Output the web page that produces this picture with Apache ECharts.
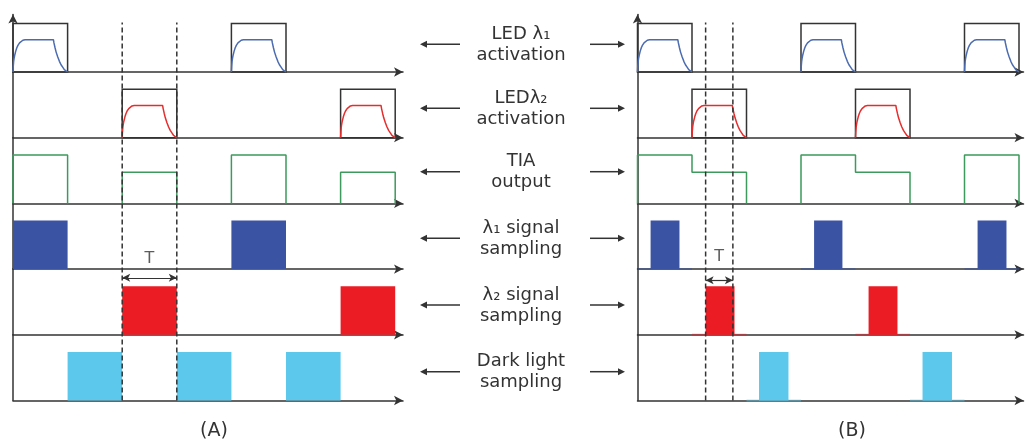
<!DOCTYPE html>
<html>
<head>
<meta charset="utf-8">
<script src="https://cdn.jsdelivr.net/npm/echarts@6/dist/echarts.min.js"></script>
<style>
  html, body { margin: 0; padding: 0; background: #fff; }
  #chart { width: 1029px; height: 447px; }
</style>
</head>
<body>
<div id="chart"></div>
<script>
// ---------------- timing data (time in slot units, level = fraction of full pulse) ----------------
const rowLabels = ['LED λ₁\nactivation', 'LEDλ₂\nactivation', 'TIA\noutput',
                   'λ₁ signal\nsampling', 'λ₂ signal\nsampling', 'Dark light\nsampling'];
const panelLabels = ['(A)', '(B)'];

// LED optical response across one activation slot: [offset in slot, level]
const ledResponse = [
  [0, 0], [0.005, 0.12], [0.012, 0.22], [0.02, 0.28], [0.03, 0.34], [0.05, 0.43],
  [0.07, 0.5], [0.09, 0.55], [0.12, 0.6], [0.15, 0.63], [0.18, 0.655], [0.22, 0.665],
  [0.74, 0.665], [0.75, 0.6], [0.77, 0.5], [0.79, 0.41], [0.82, 0.31], [0.85, 0.22],
  [0.88, 0.15], [0.91, 0.1], [0.94, 0.05], [0.97, 0.015], [1, 0]
];

// panel A (left) and panel B (right)
const led1Slots = [[0, 4], [0, 3, 6]];
const led2Slots = [[2, 6], [1, 4]];
const tiaLevels = [[1, 0, 0.64, 0, 1, 0, 0.64], [1, 0.64, 0, 1, 0.64, 0, 1]];
const sampleL1 = [[[0, 1], [4, 5]], [[0.24, 0.77], [3.24, 3.76], [6.24, 6.77]]];
const sampleL2 = [[[2, 3], [6, 7]], [[1.25, 1.78], [4.24, 4.77]]];
const sampleDark = [[[1, 2], [3, 4], [5, 6]], [[2.23, 2.77], [5.23, 5.77]]];
const windowT = [[2, 3], [1.25, 1.75]];

// ---------------- layout ----------------
const FONT = '"DejaVu Sans", sans-serif';
const INK = '#333';
const COLORS = {
  curve1: '#4b6bb0', curve2: '#e52d2d', tia: '#3d9a5c',
  s1: '#3a53a3', s2: '#ec1c24', dark: '#5bc8ec'
};
const PULSE_PX = 48.5;
const ROW_PX = 65.7;
const BASELINES = [72, 137.7, 203.4, 269.1, 334.8, 400.5];
const AXIS_TOP = 14.5;
const PANELS = [
  { left: 13, width: 390, unit: 54.6, labelX: 214 },
  { left: 637.5, width: 386, unit: 54.5, labelX: 852 }
];
const LABEL_X = 521;
const ARROW_Y = [44.3, 108.3, 171.7, 238.3, 305, 371.7];

const grids = [], xAxes = [], yAxes = [], series = [];

function addGrid(p, top, height, yMax, opts) {
  const P = PANELS[p];
  const idx = grids.length;
  grids.push({ left: P.left, top: top, width: P.width, height: height, containLabel: false });
  xAxes.push({
    type: 'value', gridIndex: idx, min: 0, max: P.width / P.unit,
    axisLine: { show: opts.axes, symbol: ['none', 'arrow'], symbolSize: [7, 9],
                lineStyle: { color: INK, width: 1.5 } },
    axisTick: { show: false }, axisLabel: { show: false }, splitLine: { show: false }
  });
  yAxes.push({
    type: 'value', gridIndex: idx, min: 0, max: yMax,
    axisLine: { show: opts.axes, onZero: false, symbol: opts.arrow ? ['none', 'arrow'] : 'none',
                symbolSize: [7, 9], lineStyle: { color: INK, width: 1.5 } },
    axisTick: { show: false }, axisLabel: { show: false }, splitLine: { show: false }
  });
  return idx;
}

function boxSeries(g, slots) {
  return {
    type: 'custom', xAxisIndex: g, yAxisIndex: g, silent: true, animation: false, z: 3,
    data: slots.map(s => [s, s + 1]),
    renderItem: function (params, api) {
      const a = api.coord([api.value(0), 0]);
      const b = api.coord([api.value(1), 1]);
      return { type: 'rect', shape: { x: a[0], y: b[1], width: b[0] - a[0], height: a[1] - b[1] },
               style: { fill: 'none', stroke: INK, lineWidth: 1.5 } };
    }
  };
}

function lineSeries(g, data, color) {
  return {
    type: 'line', xAxisIndex: g, yAxisIndex: g, data: data, symbol: 'none', showSymbol: false,
    silent: true, animation: false, z: 4, clip: false,
    lineStyle: { color: color, width: 1.5 }
  };
}

function sampleSeries(g, pulses, color) {
  return {
    type: 'custom', xAxisIndex: g, yAxisIndex: g, silent: true, animation: false, z: 3,
    data: pulses.map(p => [p[0], p[1]]),
    renderItem: function (params, api) {
      const s = api.value(0), e = api.value(1);
      const children = [];
      const slot0 = Math.floor(s + 1e-6), slot1 = slot0 + 1;
      if (e - s < 0.99) {
        const t0 = api.coord([slot0, 0]), t1 = api.coord([slot1, 0]);
        children.push({ type: 'line', shape: { x1: t0[0], y1: t0[1], x2: t1[0], y2: t1[1] },
                        style: { stroke: color, opacity: 0.45, lineWidth: 2 } });
      }
      const a = api.coord([s, 0]), b = api.coord([e, 1]);
      children.push({ type: 'rect', shape: { x: a[0], y: b[1], width: b[0] - a[0], height: a[1] - b[1] },
                      style: { fill: color } });
      return { type: 'group', children: children };
    }
  };
}

PANELS.forEach(function (P, p) {
  const rowGrid = [];
  for (let r = 0; r < 6; r++) {
    const top = r === 0 ? AXIS_TOP : BASELINES[r - 1];
    const h = BASELINES[r] - top;
    rowGrid.push(addGrid(p, top, h, h / PULSE_PX, { axes: true, arrow: r === 0 }));
  }

  // LED activation windows with their optical response
  [[led1Slots[p], COLORS.curve1], [led2Slots[p], COLORS.curve2]].forEach(function (pair, r) {
    const g = rowGrid[r];
    series.push(boxSeries(g, pair[0]));
    pair[0].forEach(function (s) {
      series.push(lineSeries(g, ledResponse.map(pt => [s + pt[0], pt[1]]), pair[1]));
    });
  });

  // TIA output: one polyline per run of non-zero slots
  const lv = tiaLevels[p];
  let i = 0;
  while (i < lv.length) {
    if (lv[i] === 0) { i++; continue; }
    const pts = [[i, 0]];
    let j = i;
    while (j < lv.length && lv[j] !== 0) {
      pts.push([j, lv[j]], [j + 1, lv[j]]);
      j++;
    }
    pts.push([j, 0]);
    series.push(lineSeries(rowGrid[2], pts, COLORS.tia));
    i = j;
  }

  // sampling pulses
  series.push(sampleSeries(rowGrid[3], sampleL1[p], COLORS.s1));
  series.push(sampleSeries(rowGrid[4], sampleL2[p], COLORS.s2));
  series.push(sampleSeries(rowGrid[5], sampleDark[p], COLORS.dark));

  // overlay: λ2 window markers and the T interval
  const oTop = AXIS_TOP;
  const oH = BASELINES[5] - oTop;
  const og = addGrid(p, oTop, oH, oH / PULSE_PX, { axes: false, arrow: false });
  const yOf = (row, level) => ((5 - row) * ROW_PX + level * PULSE_PX) / PULSE_PX;
  const w = windowT[p];
  w.forEach(function (x, k) {
    const s = {
      type: 'line', xAxisIndex: og, yAxisIndex: og, symbol: 'none', silent: true, animation: false,
      z: 6, clip: false, data: [[x, yOf(5, 0)], [x, yOf(0, 1.02)]],
      lineStyle: { color: INK, width: 1.5, type: [5, 3] }
    };
    if (k === 0) {
      const ay = yOf(3, p === 0 ? -0.18 : -0.23);
      s.markLine = {
        silent: true, animation: false, symbol: ['arrow', 'arrow'], symbolSize: [6, 8],
        label: { show: false },
        lineStyle: { color: INK, width: 1.2, type: 'solid' },
        data: [[{ coord: [w[0], ay] }, { coord: [w[1], ay] }]]
      };
    }
    series.push(s);
  });
  series.push({
    type: 'scatter', xAxisIndex: og, yAxisIndex: og, silent: true, animation: false, z: 7,
    symbolSize: 0, data: [[(w[0] + w[1]) / 2, yOf(3, p === 0 ? 0.22 : 0.26)]],
    label: { show: true, position: 'inside', formatter: 'T', color: INK, fontSize: 16, fontFamily: FONT }
  });
});

// centre column: row captions with arrows pointing to both panels
const graphic = [];
rowLabels.forEach(function (txt, r) {
  const y = ARROW_Y[r];
  graphic.push({
    type: 'text', x: LABEL_X, y: y + 0.5, silent: true,
    style: { text: txt, fill: INK, font: '18px ' + FONT, align: 'center', verticalAlign: 'middle', lineHeight: 21 }
  });
  graphic.push({ type: 'line', silent: true, shape: { x1: 426, y1: y, x2: 460, y2: y },
                 style: { stroke: INK, lineWidth: 1.5 } });
  graphic.push({ type: 'polygon', silent: true, shape: { points: [[420, y], [427, y - 3.5], [427, y + 3.5]] },
                 style: { fill: INK } });
  graphic.push({ type: 'line', silent: true, shape: { x1: 590, y1: y, x2: 619, y2: y },
                 style: { stroke: INK, lineWidth: 1.5 } });
  graphic.push({ type: 'polygon', silent: true, shape: { points: [[625, y], [618, y - 3.5], [618, y + 3.5]] },
                 style: { fill: INK } });
});
PANELS.forEach(function (P, p) {
  graphic.push({
    type: 'text', x: P.labelX, y: 431, silent: true,
    style: { text: panelLabels[p], fill: INK, font: '19px ' + FONT, align: 'center', verticalAlign: 'middle' }
  });
});

const chart = echarts.init(document.getElementById('chart'), null, { renderer: 'canvas' });
chart.setOption({
  animation: false,
  backgroundColor: '#fff',
  grid: grids,
  xAxis: xAxes,
  yAxis: yAxes,
  series: series,
  graphic: graphic
});
</script>
</body>
</html>
